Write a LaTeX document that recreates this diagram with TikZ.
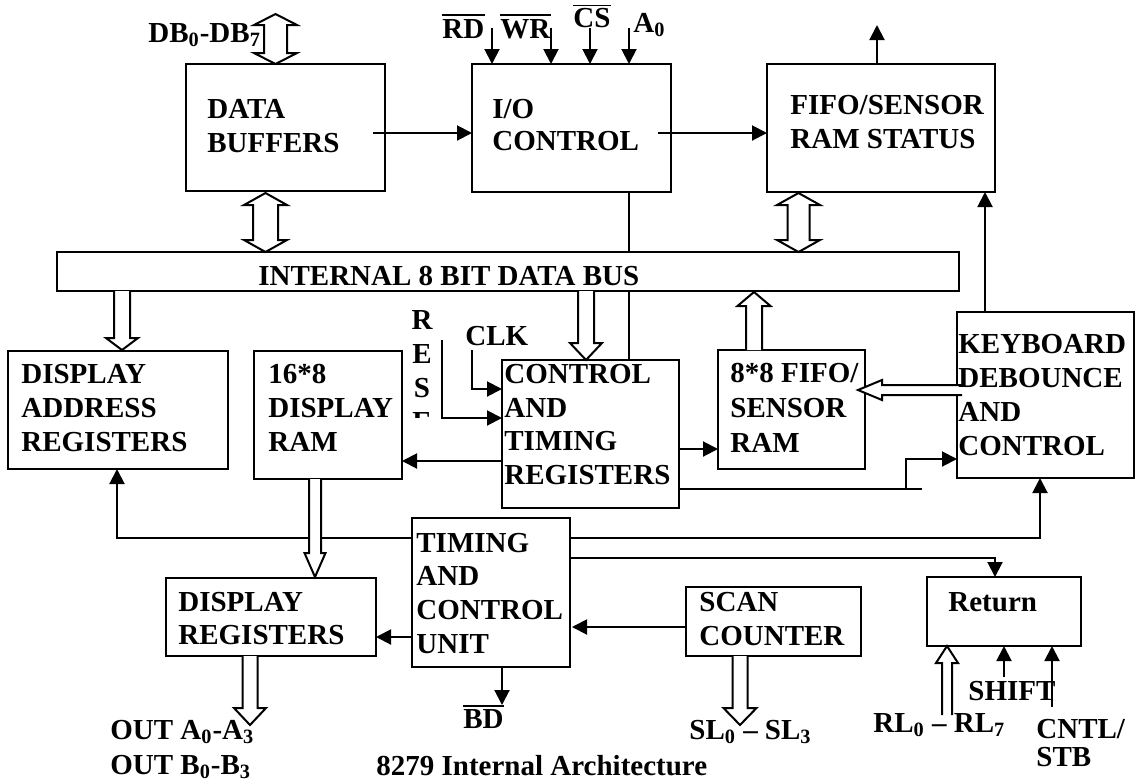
\documentclass[tikz,border=0pt]{standalone}
\usepackage{fontspec}
\setmainfont{Liberation Serif}
\usetikzlibrary{arrows.meta}
\tikzset{
  x=0.5pt, y=-0.5pt,
  box/.style={draw, line width=1pt, inner sep=0pt, outer sep=0pt},
  txt/.style={anchor=base west, inner sep=0pt, font=\fontsize{14.5pt}{17pt}\selectfont\bfseries},
  ln/.style={line width=1pt},
  arr/.style={line width=1pt, -{Triangle[length=7.5pt,width=7.5pt]}},
  hollow/.style={line width=1pt, fill=white, line join=miter},
  ovl/.style={line width=0.9pt}
}
\newcommand{\BoxAt}[5]{\node[box, minimum width={(#4-#2)*0.5pt}, minimum height={(#5-#3)*0.5pt}] (#1) at ({(#2+#4)/2},{(#3+#5)/2}) {};}
\newcommand{\HDown}[6]{\draw[hollow] ({#1-#4},#2) -- ({#1-#4},{#3-#6}) -- ({#1-#5},{#3-#6}) -- (#1,#3) -- ({#1+#5},{#3-#6}) -- ({#1+#4},{#3-#6}) -- ({#1+#4},#2);}
\newcommand{\HUp}[6]{\draw[hollow] ({#1-#4},#2) -- ({#1-#4},{#3+#6}) -- ({#1-#5},{#3+#6}) -- (#1,#3) -- ({#1+#5},{#3+#6}) -- ({#1+#4},{#3+#6}) -- ({#1+#4},#2);}
\newcommand{\HLeft}[6]{\draw[hollow] (#2,{#1-#4}) -- ({#3+#6},{#1-#4}) -- ({#3+#6},{#1-#5}) -- (#3,#1) -- ({#3+#6},{#1+#5}) -- ({#3+#6},{#1+#4}) -- (#2,{#1+#4});}
\newcommand{\HBoth}[6]{\draw[hollow] (#1,#2) -- ({#1+#5},{#2+#6}) -- ({#1+#4},{#2+#6}) -- ({#1+#4},{#3-#6}) -- ({#1+#5},{#3-#6}) -- (#1,#3) -- ({#1-#5},{#3-#6}) -- ({#1-#4},{#3-#6}) -- ({#1-#4},{#2+#6}) -- ({#1-#5},{#2+#6}) -- cycle;}
\begin{document}
\begin{tikzpicture}
\fill[white] (0,0) rectangle (1136,783);
\useasboundingbox (0,0) rectangle (1136,783);

% boxes
\BoxAt{db}{186}{64}{385}{191}
\BoxAt{io}{472}{64}{671}{192}
\BoxAt{fifo}{767}{64}{995}{192}
\BoxAt{bus}{57}{252}{959}{291}
\BoxAt{dar}{8}{351}{228}{469}
\BoxAt{dram}{254}{351}{402}{479}
\BoxAt{ctrl}{502}{360}{679}{508}
\BoxAt{fram}{718}{350}{865}{469}
\BoxAt{kbd}{957}{312}{1134}{478}
\BoxAt{tcu}{412}{518}{570}{667}
\BoxAt{dreg}{166}{578}{376}{656}
\BoxAt{scan}{686}{587}{861}{656}
\BoxAt{ret}{927}{577}{1081}{646}

% free-end coordinates
\coordinate (fifoout) at (877,25);
\coordinate (rdin) at (492,28);
\coordinate (wrin) at (551,28);
\coordinate (csin) at (590,28);
\coordinate (a0in) at (629,28);
\coordinate (clkin) at (472,350);
\coordinate (rstin) at (442,340);
\coordinate (bdout) at (502,705);
\coordinate (shiftin) at (1004,677);
\coordinate (cntlin) at (1052,707);

% solid connectors
\draw[arr] (373,133) -- (io.west |- 0,133);
\draw[arr] (658,133) -- (fifo.west |- 0,133);
\draw[arr] (fifo.north -| fifoout) -- (fifoout);
\draw[arr] (rdin) -- (io.north -| rdin);
\draw[arr] (wrin) -- (io.north -| wrin);
\draw[arr] (csin) -- (io.north -| csin);
\draw[arr] (a0in) -- (io.north -| a0in);
\draw[ln] (io.south -| 629,0) -- (bus.north -| 629,0);
\draw[ln] (bus.south -| 629,0) -- (ctrl.north -| 629,0);
\draw[arr] (clkin) |- (ctrl.west |- 0,389);
\draw[arr] (rstin) |- (ctrl.west |- 0,418);
\draw[arr] (ctrl.west |- 0,461) -- (dram.east |- 0,461);
\draw[arr] (ctrl.east |- 0,449) -- (fram.west |- 0,449);
\draw[ln] (ctrl.east |- 0,489) -- (922,489);
\draw[arr] (906,489) |- (kbd.west |- 0,459);
\draw[arr] (kbd.north -| 985,0) -- (fifo.south -| 985,0);
\draw[arr] (tcu.west |- 0,538) -| (dar.south -| 117,0);
\draw[arr] (tcu.east |- 0,538) -| (kbd.south -| 1040,0);
\draw[arr] (tcu.east |- 0,558) -| (ret.north -| 995,0);
\draw[arr] (scan.west |- 0,627) -- (572,627);
\draw[arr] (tcu.west |- 0,637) -- (dreg.east |- 0,637);
\draw[arr] (tcu.south -| bdout) -- (bdout);
\draw[arr] (shiftin) -- (ret.south -| shiftin);
\draw[arr] (cntlin) -- (ret.south -| cntlin);

% hollow bus arrows
\HBoth{275.5}{14}{64}{11.5}{21.5}{11}
\HBoth{265.5}{193}{252}{12.5}{21.5}{12}
\HBoth{798.5}{193}{252}{11}{21.5}{12}
\HDown{122}{291}{350}{8}{16}{12}
\HDown{586}{291}{360}{8}{16}{17}
\HDown{315}{479}{577}{6}{10.5}{24}
\HDown{250}{656}{725}{7.5}{16}{17}
\HDown{740}{656}{725}{7.5}{16.5}{17}
\HUp{754}{350}{292}{8}{16.5}{14}
\HUp{947}{715}{646}{5}{11}{17}
\HLeft{390}{962}{858}{5}{10}{24}

% box texts
\node[txt] (dbt1) at (207,118) {DATA};
\node[txt] (dbt2) at (207,152) {BUFFERS};
\node[txt] (iot1) at (492,118) {I/O};
\node[txt] (iot2) at (492,150) {CONTROL};
\node[txt] (fit1) at (790,114) {FIFO/SENSOR};
\node[txt] (fit2) at (790,148) {RAM STATUS};
\node[txt] (bust) at (258,285) {INTERNAL 8 BIT DATA BUS};
\node[txt] (dat1) at (21,383) {DISPLAY};
\node[txt] (dat2) at (21,417) {ADDRESS};
\node[txt] (dat3) at (21,451) {REGISTERS};
\node[txt] (drt1) at (268,383) {16*8};
\node[txt] (drt2) at (268,417) {DISPLAY};
\node[txt] (drt3) at (268,451) {RAM};
\node[txt] (ct1) at (504,383) {CONTROL};
\node[txt] (ct2) at (504,417) {AND};
\node[txt] (ct3) at (504,450) {TIMING};
\node[txt] (ct4) at (504,484) {REGISTERS};
\node[txt] (frt1) at (730,382) {8*8 FIFO/};
\node[txt] (frt2) at (730,417) {SENSOR};
\node[txt] (frt3) at (730,452) {RAM};
\node[txt] (kbt1) at (958,353) {KEYBOARD};
\node[txt] (kbt2) at (958,387) {DEBOUNCE};
\node[txt] (kbt3) at (958,421) {AND};
\node[txt] (kbt4) at (958,455) {CONTROL};
\node[txt] (tct1) at (416,552) {TIMING};
\node[txt] (tct2) at (416,585) {AND};
\node[txt] (tct3) at (416,619) {CONTROL};
\node[txt] (tct4) at (416,653) {UNIT};
\node[txt] (drg1) at (178,611) {DISPLAY};
\node[txt] (drg2) at (178,644) {REGISTERS};
\node[txt] (sct1) at (699,611) {SCAN};
\node[txt] (sct2) at (699,645) {COUNTER};
\node[txt] (rtt) at (948,611) {Return};

% pin labels
\node[txt] (dbl) at (148,42) {DB\textsubscript{0}-DB\textsubscript{7}};
\node[txt] (rd) at (442,38) {RD};
\node[txt] (wr) at (500,38) {WR};
\node[txt] (cs) at (573,27) {CS};
\node[txt] (a0) at (633,32) {A\textsubscript{0}};
\draw[ovl] ([yshift=2pt]rd.north west) -- ([yshift=2pt]rd.north east);
\draw[ovl] ([yshift=2pt]wr.north west) -- ([yshift=2pt]wr.north east);
\draw[ovl] ([yshift=1pt]cs.north west) -- ([yshift=1pt]cs.north east);
\node[txt] (clk) at (465,345) {CLK};
\begin{scope}
\clip (400,300) rectangle (440,417);
\node[txt, anchor=base] (rsR) at (422,329) {R};
\node[txt, anchor=base] (rsE) at (422,363) {E};
\node[txt, anchor=base] (rsS) at (422,397) {S};
\node[txt, anchor=base] (rsE2) at (422,431) {E};
\end{scope}
\node[txt] (outa) at (110,739) {OUT A\textsubscript{0}-A\textsubscript{3}};
\node[txt] (outb) at (110,774) {OUT B\textsubscript{0}-B\textsubscript{3}};
\node[txt] (bd) at (463,728) {BD};
\draw[ovl] ([yshift=1.5pt]bd.north west) -- ([yshift=1.5pt]bd.north east);
\node[txt] (title) at (376,775) {8279 Internal Architecture};
\node[txt] (sl) at (689,739) {SL\textsubscript{0} – SL\textsubscript{3}};
\node[txt] (rl) at (873,732) {RL\textsubscript{0} – RL\textsubscript{7}};
\node[txt] (shift) at (968,700) {SHIFT};
\node[txt] (cntl1) at (1036,738) {CNTL/};
\node[txt] (cntl2) at (1036,766) {STB};
\end{tikzpicture}
\end{document}
